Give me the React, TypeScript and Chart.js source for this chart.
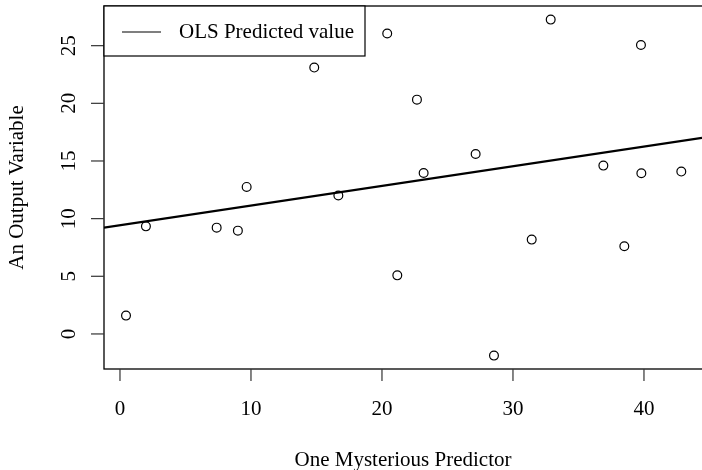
import React, { useEffect, useRef } from "react";
import { Chart, registerables } from "chart.js";

Chart.register(...registerables);

// Observations: predictor (x) and response (y)
const predictorValues = [
  0.46, 1.98, 7.38, 9.0, 9.67, 14.83, 16.67, 20.4, 21.17, 22.67,
  23.18, 27.15, 28.55, 31.43, 32.88, 36.9, 38.5, 39.77, 39.8, 42.85,
];
const outputValues = [
  1.59, 9.33, 9.22, 8.96, 12.75, 23.1, 12.0, 26.05, 5.08, 20.32,
  13.96, 15.61, -1.88, 8.18, 27.26, 14.6, 7.6, 25.06, 13.93, 14.08,
];

// Fitted OLS line y = a + b x
const olsIntercept = 9.43;
const olsSlope = 0.1706;

const xTicks = [0, 10, 20, 30, 40];
const yTicks = [0, 5, 10, 15, 20, 25];

const xLabel = "One Mysterious Predictor";
const yLabel = "An Output Variable";
const legendLabel = "OLS Predicted value";

const X_MIN = -1.22;
const X_MAX = 44.43;
const Y_MIN = -3.04;
const Y_MAX = 28.44;

const FONT = '21px "Liberation Serif", "Times New Roman", serif';

const baseGraphics = {
  id: "baseGraphics",
  afterDraw(chart: any) {
    const { ctx, chartArea } = chart;
    const xs = chart.scales.x;
    const ys = chart.scales.y;
    const { left, top, right, bottom } = chartArea;
    ctx.save();

    // plot box
    ctx.strokeStyle = "#000";
    ctx.lineWidth = 1.3;
    ctx.strokeRect(left, top, right - left + 2, bottom - top);

    ctx.fillStyle = "#000";
    ctx.font = FONT;

    // x axis ticks and labels
    ctx.strokeStyle = "#333";
    ctx.lineWidth = 1.2;
    ctx.textAlign = "center";
    ctx.textBaseline = "middle";
    for (const t of xTicks) {
      const px = xs.getPixelForValue(t);
      ctx.beginPath();
      ctx.moveTo(px, bottom);
      ctx.lineTo(px, bottom + 12);
      ctx.stroke();
      ctx.fillText(String(t), px, 409);
    }

    // y axis ticks and vertical labels
    for (const t of yTicks) {
      const py = ys.getPixelForValue(t);
      ctx.beginPath();
      ctx.moveTo(left - 13, py);
      ctx.lineTo(left, py);
      ctx.stroke();
      ctx.save();
      ctx.translate(69, py);
      ctx.rotate(-Math.PI / 2);
      ctx.fillText(String(t), 0, 0);
      ctx.restore();
    }

    // axis titles
    ctx.fillText(xLabel, (left + right) / 2, 460);
    ctx.save();
    ctx.translate(17, (top + bottom) / 2);
    ctx.rotate(-Math.PI / 2);
    ctx.fillText(yLabel, 0, 0);
    ctx.restore();

    // legend
    const lx = left;
    const ly = top;
    const lw = 261;
    const lh = 50;
    ctx.fillStyle = "#fff";
    ctx.fillRect(lx, ly, lw, lh);
    ctx.strokeStyle = "#000";
    ctx.lineWidth = 1.2;
    ctx.strokeRect(lx, ly, lw, lh);
    ctx.beginPath();
    ctx.moveTo(lx + 18, ly + 26);
    ctx.lineTo(lx + 57, ly + 26);
    ctx.stroke();
    ctx.fillStyle = "#000";
    ctx.textAlign = "left";
    ctx.fillText(legendLabel, lx + 75, ly + 26);

    ctx.restore();
  },
};

export default function App() {
  const canvasRef = useRef<HTMLCanvasElement | null>(null);

  useEffect(() => {
    const canvas = canvasRef.current;
    if (!canvas) return;
    const points = predictorValues.map((x, i) => ({ x, y: outputValues[i] }));
    const fitLine = [X_MIN, X_MAX].map((x) => ({ x, y: olsIntercept + olsSlope * x }));

    const chart = new Chart(canvas, {
      type: "scatter",
      data: {
        datasets: [
          {
            type: "line",
            data: fitLine,
            borderColor: "#000",
            borderWidth: 2.2,
            pointRadius: 0,
            fill: false,
          },
          {
            type: "scatter",
            data: points,
            pointStyle: "circle",
            pointRadius: 4.4,
            borderColor: "#000",
            borderWidth: 1.2,
            backgroundColor: "rgba(0,0,0,0)",
          },
        ],
      },
      options: {
        responsive: false,
        animation: false,
        devicePixelRatio: 1,
        layout: { autoPadding: false, padding: { left: 104, top: 6, right: 0, bottom: 101 } },
        plugins: {
          legend: { display: false },
          tooltip: { enabled: false },
        },
        scales: {
          x: { type: "linear", min: X_MIN, max: X_MAX, display: false },
          y: { type: "linear", min: Y_MIN, max: Y_MAX, display: false },
        },
      },
      plugins: [baseGraphics],
    });
    return () => chart.destroy();
  }, []);

  return (
    <div style={{ position: "absolute", left: 0, top: 0, width: 702, height: 470, background: "#fff" }}>
      <canvas ref={canvasRef} width={702} height={470} style={{ display: "block" }} />
    </div>
  );
}
